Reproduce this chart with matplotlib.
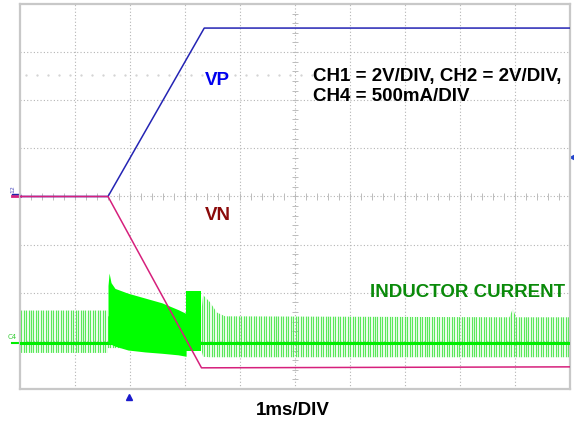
import numpy as np
import matplotlib
matplotlib.use("Agg")
from matplotlib import pyplot as plt

# scope settings
v_per_div = 2.0      # CH1, CH2
a_per_div = 0.5      # CH4
c4_offset = -3.05    # divisions
t_switch = 0.045     # ms, pulse spacing of the light-load bursts

# VP (CH1) and VN (CH2), time in ms, volts
vp_t = [0.0, 1.60, 3.35, 10.0]
vp_v = [0.0, 0.0, 7.0, 7.0]
vn_t = [0.0, 1.60, 3.30, 10.0]
vn_v = [0.0, 0.0, -7.12, -7.08]

# inductor current (CH4) envelope of the pulse-skipping regions, amps
env_t = [0.0, 1.60, 1.60, 3.29, 3.33, 3.45, 3.58, 3.73, 8.90, 8.96, 9.02, 10.0]
env_hi = [0.34, 0.34, 0.28, 0.28, 0.50, 0.43, 0.32, 0.28, 0.27, 0.36, 0.27, 0.27]
env_lo = [-0.10, -0.10, -0.05, -0.05, -0.14, -0.145, -0.145, -0.145, -0.145, -0.145, -0.145, -0.145]

# continuous switching burst during the ramp
burst_t = [1.60, 1.62, 1.655, 1.727, 1.964, 2.273, 2.582, 2.873, 3.02]
burst_hi = [0.60, 0.73, 0.63, 0.57, 0.52, 0.47, 0.42, 0.35, 0.31]
burst_lo = [0.0, 0.0, -0.01, -0.03, -0.07, -0.09, -0.104, -0.12, -0.135]
block_t = [3.02, 3.29]
block_hi = [0.54, 0.54]
block_lo = [-0.083, -0.083]


def v2div(v):
    return np.asarray(v) / v_per_div


def i2div(i):
    return np.asarray(i) / a_per_div + c4_offset


fig = plt.figure(figsize=(5.74, 4.23), dpi=100)
ax = fig.add_axes([20 / 574, 34 / 423, 550 / 574, 385 / 423])
ax.set_xlim(0, 10)
ax.set_ylim(-4, 4)
ax.set_xticks([])
ax.set_yticks([])
for s in ax.spines.values():
    s.set_color("#c8c8c8")
    s.set_linewidth(1.6)

# graticule
grid_kw = dict(color="#b4b4b4", lw=0.8, ls=(0, (1, 2)), zorder=0)
for x in range(1, 10):
    ax.axvline(x, **grid_kw)
for y in range(-3, 4):
    ax.axhline(y, **grid_kw)
dots_x = np.arange(0.1, 5.35, 0.2)
ax.plot(dots_x, np.full(len(dots_x), 2.53), ls="none", marker=".", ms=1.3,
        color="#d2d2d2", zorder=0)
ticks_x = np.arange(0, 10.01, 0.2)
ax.vlines(ticks_x, -0.07, 0.07, color="#bcbcbc", lw=0.7, zorder=0)
ticks_y = np.arange(-4, 4.01, 0.2)
ax.hlines(ticks_y, 4.94, 5.06, color="#bcbcbc", lw=0.7, zorder=0)

# inductor current
env = ax.fill_between(env_t, i2div(env_lo), i2div(env_hi), facecolor="none",
                      edgecolor="none")
pulses = ax.vlines(np.arange(0.02, 10, t_switch), -4, 0, color="#5ae85a",
                   lw=0.9, zorder=2)
pulses.set_clip_path(env.get_paths()[0], ax.transData)
ax.axhline(i2div(0.0), color="#00ee00", lw=2.2, zorder=3)
ax.fill_between(burst_t, i2div(burst_lo), i2div(burst_hi), color="#00ff00",
                lw=0, zorder=4)
ax.fill_between(block_t, i2div(block_lo), i2div(block_hi), color="#00ff00",
                lw=0, zorder=4)

# voltages
ax.plot(vp_t, v2div(vp_v), color="#2424b4", lw=1.1, zorder=5)
ax.plot(vn_t, v2div(vn_v), color="#d6207c", lw=1.1, zorder=6)

# labels
bold = dict(family="Liberation Sans", weight="bold", fontsize=13.5)
ax.text(3.58, 2.42, "VP", color="#0000ee", ha="center", va="center", **bold)
ax.text(3.59, -0.40, "VN", color="#8b0a0a", ha="center", va="center", **bold)
ax.text(5.33, 2.50, "CH1 = 2V/DIV, CH2 = 2V/DIV,", color="black",
        ha="left", va="center", **bold)
ax.text(5.33, 2.07, "CH4 = 500mA/DIV", color="black", ha="left",
        va="center", **bold)
ax.text(9.91, -2.0, "INDUCTOR CURRENT", color="#0a8a0a", ha="right",
        va="center", **bold)
fig.text(292.5 / 574, 1 - 410 / 423, "1ms/DIV", color="black", ha="center",
         va="center", **bold)

# channel markers
ax.plot([-0.15, 0.0], [0.0, 0.0], color="#d6207c", lw=2, clip_on=False)
ax.plot([-0.15, 0.0], [0.05, 0.05], color="#2222a8", lw=1, clip_on=False)
ax.text(-0.13, 0.15, "12", color="#5050c0", fontsize=4.5, rotation=90,
        ha="center", va="center", clip_on=False)
ax.plot([-0.15, 0.0], [c4_offset, c4_offset], color="#00ee00", lw=1.5,
        clip_on=False)
ax.text(-0.14, c4_offset + 0.13, "C4", color="#33cc33", fontsize=5,
        ha="center", va="center", clip_on=False)
ax.plot([10.04], [0.82], marker="<", ms=3.5, color="#2244cc", clip_on=False)
ax.plot([1.98], [-4.16], marker="^", ms=4, color="#1a1acc", clip_on=False)

fig.savefig("out.png", dpi=100)
